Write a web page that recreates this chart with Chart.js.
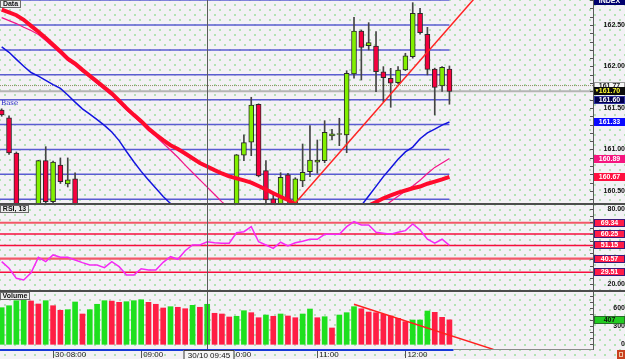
<!DOCTYPE html>
<html>
<head>
<meta charset="utf-8">
<script src="https://cdn.jsdelivr.net/npm/chart.js@4.4.0/dist/chart.umd.min.js"></script>
<style>
html, body { margin: 0; padding: 0; }
body { width: 625px; height: 359px; overflow: hidden; background: #f3f1f5; }
#wrap {
  position: relative; width: 625px; height: 359px;
  background-color: #f3f1f5;
  background-image: radial-gradient(circle, rgba(100,210,100,0.7) 0.6px, transparent 0.9px),
                    radial-gradient(circle, rgba(100,210,100,0.7) 0.6px, transparent 0.9px);
  background-size: 10px 10px, 10px 10px;
  background-position: 0 0, 5px 5px;
}
canvas { position: absolute; left: 0; }
.sep { position: absolute; left: 0; width: 625px; height: 2px; background: #4c4c4c; }
</style>
</head>
<body>
<div id="wrap">
  <canvas id="priceChart" width="625" height="203" style="top:0"></canvas>
  <div class="sep" style="top:203px"></div>
  <canvas id="rsiChart" width="625" height="85" style="top:205px"></canvas>
  <div class="sep" style="top:290px"></div>
  <canvas id="volChart" width="625" height="67" style="top:292px"></canvas>
</div>
<script>
// 5 minute bars, 07:25 .. 12:30

const opens  = [161.476,161.38,160.958,160.20,160.05,160.20,160.865,160.371,160.813,160.584,160.645,160.30,160.10,160.18,160.25,160.15,159.98,159.85,159.68,159.70,159.82,159.78,159.80,159.95,160.05,160.00,160.15,160.26,160.24,160.30,160.28,160.22,160.25,160.930,161.087,161.545,160.745,160.404,160.30,160.693,160.30,160.62,160.733,160.846,160.865,161.163,161.18,161.175,161.91,162.428,162.251,162.247,161.937,161.858,161.805,161.958,162.118,162.641,162.388,161.97,161.765,161.97];
const highs  = [161.49,161.404,160.97,160.30,160.25,160.87,161.034,160.86,160.898,160.898,160.72,160.32,160.22,160.30,160.33,160.20,160.05,159.90,159.75,159.88,159.85,159.82,159.98,160.10,160.08,160.20,160.30,160.30,160.34,160.33,160.32,160.30,160.94,161.175,161.629,161.55,160.865,160.476,160.72,160.713,160.66,161.066,161.287,161.114,161.347,161.243,161.376,161.949,162.593,162.44,162.528,162.419,161.998,161.978,161.998,162.159,162.769,162.701,162.472,161.98,162.00,162.006];
const lows   = [161.40,160.94,160.15,159.95,159.98,160.15,160.30,160.33,160.59,160.548,160.25,160.05,159.95,160.08,160.10,159.92,159.80,159.62,159.55,159.65,159.70,159.68,159.76,159.90,159.94,159.98,160.10,160.18,160.20,160.22,160.18,160.15,160.20,160.865,160.925,160.67,160.35,160.25,160.26,160.33,160.28,160.552,160.672,160.713,160.84,161.114,161.046,160.961,161.858,161.837,162.199,161.696,161.576,161.508,161.79,161.95,162.10,162.39,161.898,161.416,161.70,161.545];
const closes = [161.416,160.958,160.20,160.05,160.20,160.865,160.371,160.849,160.612,160.633,160.30,160.10,160.18,160.25,160.15,159.98,159.85,159.68,159.70,159.82,159.78,159.80,159.95,160.05,160.00,160.15,160.26,160.24,160.30,160.28,160.22,160.25,160.934,161.082,161.536,160.681,160.392,160.30,160.665,160.392,160.645,160.725,160.873,160.873,161.207,161.187,161.184,161.918,162.428,162.231,162.287,161.937,161.865,161.798,161.958,162.127,162.641,162.407,161.966,161.749,161.99,161.70];

const maSlow = [162.686,162.653,162.618,162.563,162.489,162.419,162.342,162.261,162.182,162.093,162.035,161.959,161.888,161.817,161.747,161.675,161.587,161.498,161.417,161.341,161.253,161.180,161.112,161.051,161.006,160.952,160.894,160.837,160.794,160.751,160.711,160.676,160.652,160.628,160.601,160.560,160.518,160.473,160.430,160.392,160.341,160.307,160.283,160.259,160.247,160.241,160.247,160.259,160.283,160.307,160.324,160.367,160.412,160.446,160.481,160.506,160.533,160.553,160.587,160.613,160.640,160.670];
const maMid  = [162.588,162.553,162.517,162.472,162.434,162.386,162.313,162.235,162.157,162.072,162.012,161.940,161.867,161.795,161.723,161.651,161.566,161.476,161.398,161.319,161.229,161.157,161.075,160.990,160.906,160.811,160.723,160.634,160.546,160.457,160.369,160.295,160.235,160.187,160.151,160.127,160.102,160.090,160.078,160.078,160.078,160.078,160.090,160.090,160.102,160.114,160.127,160.139,160.151,160.175,160.205,160.247,160.310,160.372,160.435,160.498,160.559,160.630,160.710,160.784,160.837,160.890];
const maFast = [162.235,162.171,162.086,162.002,161.927,161.883,161.833,161.782,161.736,161.657,161.571,161.490,161.425,161.360,161.290,161.210,161.107,160.976,160.852,160.736,160.633,160.533,160.433,160.349,160.271,160.187,160.102,160.030,159.958,159.898,159.849,159.813,159.789,159.777,159.777,159.777,159.777,159.777,159.789,159.801,159.813,159.837,159.873,159.922,159.982,160.042,160.114,160.187,160.259,160.325,160.439,160.555,160.673,160.777,160.881,160.971,161.029,161.130,161.199,161.246,161.294,161.331];

const rsi = [38.1,32.8,24.7,23.4,29.2,41.6,38.1,43.5,41.6,41.6,39.4,37.3,35.4,35.4,33.3,38.1,34.1,27.4,27.4,32.4,31.4,31.4,37.6,42.1,40.0,46.9,51.5,51.5,54.1,53.3,52.9,52.9,61.4,62.2,66.2,54.1,51.5,48.8,53.7,50.7,53.3,54.5,56.1,56.1,60.1,60.1,60.1,66.2,70.2,67.6,67.6,61.7,60.9,60.1,61.7,63.0,68.4,63.5,56.1,52.9,56.1,51.2];

const volumes = [610,643,727,755,722,672,727,643,567,577,705,505,577,667,727,720,700,710,727,743,700,667,605,627,617,593,650,617,667,517,505,455,467,560,527,443,488,467,505,472,443,505,588,443,460,272,488,527,627,593,538,527,500,472,433,377,405,405,555,533,450,407];

const priceLevels = [160.4, 160.7, 161.0, 161.3, 161.6, 161.9, 162.2, 162.5, 162.8];
const rsiLevels = [69.34, 60.25, 51.15, 40.57, 29.51];
const priceLabels = [160.5, 161.0, 161.5, 162.0, 162.5];
const rsiLabels = [20, 80];
const volLabels = [0, 300, 600];
const timeTicks = [7, 19, 31, 43, 55];
const timeLabels = ['30 08:00', '09:00', '10:00', '11:00', '12:00'];
const askPrice = 161.77;
const bidPrice = 161.70;
const priceTrend = [[39, 160.253], [65, 162.88]];
const volTrend = [[48, 667], [67, -85]];
const cursorIndex = 28;
const cursorLabel = '30/10 09:45';

const xMin = -0.23, xMax = 80.56;
const lastIndex = opens.length - 1;
const FONT = '"Liberation Sans", Arial, sans-serif';

function pts(arr) {
    return arr.map((v, i) => ({ x: i, y: v }));
}
function seg(pairs) {
    return pairs.map(p => ({ x: p[0], y: p[1] }));
}
function line(data, color, width, order, extra) {
    return Object.assign({
        type: 'line', data: data, borderColor: color, borderWidth: width,
        pointRadius: 0, fill: false, tension: 0, clip: 0, order: order
    }, extra || {});
}
function isOn(v, list) {
    return list.some(p => Math.abs(p - v) < 1e-6);
}
function noPad(s) {
    s.paddingTop = 0;
    s.paddingBottom = 0;
    s.paddingLeft = 0;
    s.paddingRight = 0;
}

function drawBox(ctx, x, y, w, h, text, bg, fg, border, bold) {
    ctx.fillStyle = bg;
    ctx.fillRect(x, y, w, h);
    if (border) {
        ctx.strokeStyle = border;
        ctx.lineWidth = 1;
        ctx.strokeRect(x + 0.5, y + 0.5, w - 1, h - 1);
    }
    ctx.fillStyle = fg;
    ctx.font = (bold === false ? '' : 'bold ') + '7px ' + FONT;
    ctx.textAlign = 'center';
    ctx.textBaseline = 'middle';
    ctx.fillText(text, x + w / 2, y + h / 2 + 0.5);
}

// plugin comun aos 3 paineis: cursor, marcas do eixo, caixas de valores, titulo
function panelPlugin(id, cfg) {
    return {
        id: id,
        afterDatasetsDraw(chart) {
            const ctx = chart.ctx, a = chart.chartArea;
            const cx = Math.round(chart.scales.x.getPixelForValue(cursorIndex)) + 0.5;
            ctx.save();
            ctx.strokeStyle = '#5a5a5a';
            ctx.lineWidth = 1;
            ctx.beginPath();
            ctx.moveTo(cx, a.top);
            ctx.lineTo(cx, a.bottom);
            ctx.stroke();
            ctx.restore();
        },
        afterDraw(chart) {
            const ctx = chart.ctx, a = chart.chartArea;
            const ys = chart.scales.y, xs = chart.scales.x;
            ctx.save();
            // marcas pequenas do eixo (para dentro)
            ctx.strokeStyle = '#555';
            ctx.lineWidth = 1;
            ys.ticks.forEach(t => {
                const r = t.value / cfg.step;
                if (Math.abs(r - Math.round(r)) > 1e-6) return;
                const y = Math.round(ys.getPixelForValue(t.value)) + 0.5;
                ctx.beginPath();
                ctx.moveTo(a.right - 3, y);
                ctx.lineTo(a.right, y);
                ctx.stroke();
            });
            // caixas de valores no eixo
            (cfg.boxes || []).forEach(b => {
                const y = b.top ? a.top - 3 : Math.round(ys.getPixelForValue(b.value)) - 4;
                drawBox(ctx, a.right + 1, y, 31, 8, b.text, b.bg, b.fg, b.border);
                if (b.mark) {
                    ctx.fillStyle = b.fg;
                    ctx.font = '5px ' + FONT;
                    ctx.fillText('\u25BC', a.right + 4, y + 4);
                }
            });
            // titulo do painel
            if (cfg.title) {
                ctx.font = 'bold 7px ' + FONT;
                const w = Math.ceil(ctx.measureText(cfg.title).width) + 5;
                drawBox(ctx, 0, a.top, w, 8, cfg.title, '#ececec', '#111', '#6a6a6a');
            }
            if (cfg.base) {
                ctx.fillStyle = '#2a2ac8';
                ctx.font = '7px "DejaVu Serif", serif';
                ctx.textAlign = 'left';
                ctx.textBaseline = 'middle';
                ctx.fillText('Base', 1, ys.getPixelForValue(cfg.base) + 4);
            }
            if (cfg.timeAxis) {
                const lastPx = xs.getPixelForValue(lastIndex) + 4;
                ctx.fillStyle = '#8a8a8a';
                ctx.fillRect(lastPx, a.bottom, a.right - lastPx, 1);
                ctx.fillStyle = '#1638d8';
                ctx.fillRect(0, a.bottom, lastPx, 2);
                const cx = Math.round(xs.getPixelForValue(cursorIndex));
                ctx.font = '8px ' + FONT;
                const w = Math.ceil(ctx.measureText(cursorLabel).width) + 8;
                const bx = cx + 2 - w / 2;
                ctx.fillStyle = '#f6f6f6';
                ctx.fillRect(bx, a.bottom + 1, w, 10);
                ctx.strokeStyle = '#3a3a3a';
                ctx.strokeRect(bx + 0.5, a.bottom + 1.5, w - 1, 9);
                ctx.fillStyle = '#111';
                ctx.textAlign = 'center';
                ctx.textBaseline = 'middle';
                ctx.fillText(cursorLabel, cx + 2, a.bottom + 6.5);
                // icone do canto
                ctx.fillStyle = '#c8401e';
                ctx.fillRect(617, a.bottom + 1, 8, 9);
                ctx.strokeStyle = '#f0c0a0';
                ctx.strokeRect(619.5, a.bottom + 3.5, 3, 4);
            }
            ctx.restore();
        }
    };
}

function xAxis() {
    return {
        type: 'linear', min: xMin, max: xMax, offset: false, display: false,
        grid: { display: false, offset: false }
    };
}
function yAxis(min, max, step, labels, digits) {
    return {
        position: 'right', min: min, max: max,
        afterFit: s => { s.width = 32; noPad(s); },
        ticks: {
            stepSize: step, autoSkip: false, includeBounds: false, crossAlign: 'far', padding: 8,
            color: '#111', font: { family: FONT, size: 7, weight: 'bold' },
            callback: v => isOn(v, labels) ? Number(v).toFixed(digits) : ''
        },
        grid: { display: false, drawTicks: false },
        border: { display: true, color: '#5a5a5a', width: 1 }
    };
}
const baseOptions = {
    responsive: false,
    animation: false,
    events: [],
    layout: { padding: 0, autoPadding: false },
    plugins: { legend: { display: false }, tooltip: { enabled: false } }
};

// grafico de precos
const bullish = opens.map((o, i) => closes[i] >= o);
const priceDatasets = [];
priceLevels.forEach(v => {
    priceDatasets.push(line([{ x: xMin, y: v }, { x: lastIndex, y: v }], '#5b5bd2', 1.5, 20));
});
priceDatasets.push(line([{ x: xMin, y: askPrice }, { x: xMax, y: askPrice }], '#8c8c66', 1, 19, { borderDash: [1, 1] }));
priceDatasets.push(line([{ x: xMin, y: bidPrice }, { x: xMax, y: bidPrice }], '#b4b4b4', 2, 19));
priceDatasets.push({
    type: 'bar', order: 10, grouped: false, clip: 0,
    data: opens.map((o, i) => ({ x: i, y: [lows[i], highs[i]] })),
    backgroundColor: '#444', barThickness: 1, minBarLength: 1
});
priceDatasets.push({
    type: 'bar', order: 9, grouped: false, clip: 0,
    data: opens.map((o, i) => ({ x: i, y: [o, closes[i]] })),
    backgroundColor: bullish.map(b => b ? '#82f000' : '#f6003e'),
    borderColor: '#2a2a2a', borderWidth: 1, borderSkipped: false,
    barThickness: 5, minBarLength: 1
});
priceDatasets.push(line(pts(maSlow), '#ff0a2c', 4, 3));
priceDatasets.push(line(pts(maMid), '#f5158a', 1.2, 4));
priceDatasets.push(line(pts(maFast), '#1414e0', 1.5, 4));
priceDatasets.push(line(seg(priceTrend), '#ff2424', 1.5, 2));

new Chart(document.getElementById('priceChart'), {
    type: 'bar',
    data: { datasets: priceDatasets },
    options: Object.assign({}, baseOptions, {
        scales: { x: xAxis(), y: yAxis(160.355, 162.801, 0.1, priceLabels, 2) }
    }),
    plugins: [panelPlugin('pricePanel', {
        step: 0.1, title: 'Data', base: 161.60,
        boxes: [
            { top: true, text: 'INDEX', bg: '#00006e', fg: '#ffffff' },
            { value: askPrice, text: '161.77', bg: '#f6f6f6', fg: '#222', border: '#9a9a9a' },
            { value: bidPrice, text: '161.70', bg: '#0c0c0c', fg: '#ffff30', mark: true },
            { value: 161.60, text: '161.60', bg: '#00004e', fg: '#ffffff', border: '#3030a0' },
            { value: 161.33, text: '161.33', bg: '#0a0aff', fg: '#ffffff' },
            { value: 160.89, text: '160.89', bg: '#f5157f', fg: '#ffffff' },
            { value: 160.67, text: '160.67', bg: '#ff1040', fg: '#ffffff' }
        ]
    })]
});

// RSI
const rsiDatasets = rsiLevels.map((v, i) => line([{ x: xMin, y: v }, { x: xMax, y: v }],
    (i === 0 || i === 3) ? '#f25868' : '#f70e3e', (i === 0 || i === 3) ? 2.2 : 1.5, 10));
rsiDatasets.push(line(pts(rsi), '#f52af5', 1.5, 1));

new Chart(document.getElementById('rsiChart'), {
    type: 'line',
    data: { datasets: rsiDatasets },
    options: Object.assign({}, baseOptions, {
        scales: { x: xAxis(), y: yAxis(15.34, 83.61, 5, rsiLabels, 2) }
    }),
    plugins: [panelPlugin('rsiPanel', {
        step: 5, title: 'RSI, 13',
        boxes: rsiLevels.map(v => ({ value: v, text: v.toFixed(2), bg: '#ff1c48', fg: '#ffffff', border: '#3a1a78' }))
    })]
});

// volume
const volColors = volumes.map((v, i) => (i === 0 || v >= volumes[i - 1]) ? '#1ee01e' : '#ff1e44');
const volX = xAxis();
Object.assign(volX, {
    display: true, position: 'bottom',
    afterBuildTicks: s => { s.ticks = timeTicks.map(v => ({ value: v })); },
    afterFit: s => { s.height = 10; noPad(s); },
    ticks: {
        autoSkip: false, maxRotation: 0, minRotation: 0, align: 'start', padding: -8, labelOffset: 2,
        color: '#1a1a1a', font: { family: FONT, size: 8 },
        callback: (v, i) => timeLabels[i]
    },
    grid: { display: true, drawOnChartArea: false, drawTicks: true, tickLength: 9, color: '#555', offset: false },
    border: { display: false }
});

new Chart(document.getElementById('volChart'), {
    type: 'bar',
    data: {
        datasets: [
            { type: 'bar', order: 5, clip: 0, data: pts(volumes), backgroundColor: volColors, barThickness: 5 },
            line(seg(volTrend), '#ff2020', 1.5, 1)
        ]
    },
    options: Object.assign({}, baseOptions, {
        scales: { x: volX, y: yAxis(-78.3, 871.7, 100, volLabels, 0) }
    }),
    plugins: [panelPlugin('volPanel', {
        step: 100, title: 'Volume', timeAxis: true,
        boxes: [{ value: volumes[lastIndex], text: String(volumes[lastIndex]), bg: '#22cc22', fg: '#111', border: '#2a6a2a' }]
    })]
});
</script>
</body>
</html>
